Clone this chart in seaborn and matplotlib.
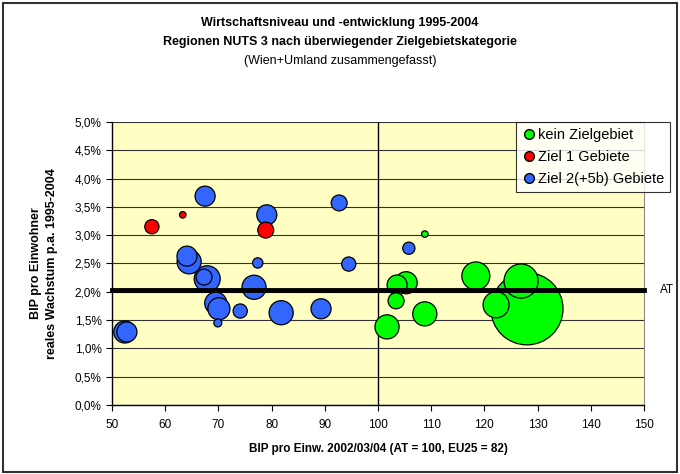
import pandas as pd
import numpy as np
import matplotlib.pyplot as plt
import seaborn as sns
from matplotlib.lines import Line2D
from matplotlib.patches import Rectangle
from matplotlib.ticker import FuncFormatter, MultipleLocator

plt.rcParams['font.family'] = ['Liberation Sans', 'DejaVu Sans']

# BIP pro Einw. (AT = 100), Wachstum p.a. in %, Einwohner (1000, geschaetzt)
kein_x = [101.7, 103.4, 103.6, 105.3, 108.8, 108.8, 118.4, 122.2, 128.0, 126.9]
kein_y = [1.38, 1.84, 2.12, 2.16, 1.61, 3.02, 2.28, 1.77, 1.70, 2.19]
kein_pop = [275, 120, 190, 230, 275, 20, 370, 320, 2460, 550]

ziel1_x = [57.5, 63.3, 78.9]
ziel1_y = [3.15, 3.36, 3.09]
ziel1_pop = [95, 20, 120]

ziel2_x = [52.4, 52.8, 64.1, 64.5, 67.9, 67.3, 69.5, 70.1, 69.9, 74.1,
           76.7, 77.4, 81.8, 67.5, 79.1, 92.7, 94.5, 89.3, 105.8]
ziel2_y = [1.29, 1.29, 2.63, 2.53, 2.23, 2.26, 1.80, 1.70, 1.45, 1.66,
           2.08, 2.51, 1.63, 3.69, 3.36, 3.57, 2.49, 1.70, 2.77]
ziel2_pop = [230, 190, 190, 275, 320, 120, 230, 230, 30, 95,
             275, 50, 275, 190, 190, 120, 95, 190, 70]

at_growth = 2.03

categories = ['kein Zielgebiet', 'Ziel 1 Gebiete', 'Ziel 2(+5b) Gebiete']
colors = {'kein Zielgebiet': '#00FF00', 'Ziel 1 Gebiete': '#FF0000',
          'Ziel 2(+5b) Gebiete': '#3366FF'}

df = pd.concat([
    pd.DataFrame({'x': kein_x, 'y': kein_y, 'pop': kein_pop, 'kat': categories[0]}),
    pd.DataFrame({'x': ziel1_x, 'y': ziel1_y, 'pop': ziel1_pop, 'kat': categories[1]}),
    pd.DataFrame({'x': ziel2_x, 'y': ziel2_y, 'pop': ziel2_pop, 'kat': categories[2]}),
])
# big bubbles first, small ones on top
df = df.sort_values('pop', ascending=False)

fig = plt.figure(figsize=(6.8, 4.74), dpi=100)
ax = fig.add_axes([0.1647, 0.1456, 0.7823, 0.597])
ax.set_facecolor('#FFFFC4')

max_pop = max(df['pop'])
sns.scatterplot(data=df, x='x', y='y', hue='kat', palette=colors, size='pop',
                sizes=(0, 2700), size_norm=(0, max_pop), edgecolor='black',
                linewidth=0.9, alpha=1, legend=False, ax=ax, zorder=3)

ax.set_xlim(50, 150)
ax.set_ylim(0, 5)
ax.xaxis.set_major_locator(MultipleLocator(10))
ax.yaxis.set_major_locator(MultipleLocator(0.5))
ax.yaxis.set_major_formatter(FuncFormatter(lambda v, p: f'{v:.1f}%'.replace('.', ',')))
ax.grid(axis='y', color='#333333', linewidth=0.8, zorder=0)
ax.set_axisbelow(True)
ax.tick_params(labelsize=8.5, length=4, width=0.8, direction='out', color='black')
ax.tick_params(axis='x', pad=6)

for side in ['left', 'bottom']:
    ax.spines[side].set_color('black')
    ax.spines[side].set_linewidth(1)
ax.spines['top'].set_visible(False)
ax.spines['right'].set_color('#888888')

ax.axvline(100, color='black', linewidth=1, zorder=2)
ax.axhline(at_growth, color='black', linewidth=3.5, zorder=4, clip_on=False)
ax.text(153, at_growth, 'AT', fontsize=8.5, va='center', ha='left')

ax.set_xlabel('BIP pro Einw. 2002/03/04 (AT = 100, EU25 = 82)', fontsize=8.5,
              fontweight='bold', labelpad=9)
ax.set_ylabel('BIP pro Einwohner\nreales Wachstum p.a. 1995-2004', fontsize=9,
              fontweight='bold', labelpad=12, linespacing=1.5)

fig.text(0.5, 0.952, 'Wirtschaftsniveau und -entwicklung 1995-2004',
         ha='center', va='center', fontsize=9, fontweight='bold')
fig.text(0.5, 0.911, 'Regionen NUTS 3 nach überwiegender Zielgebietskategorie',
         ha='center', va='center', fontsize=9, fontweight='bold')
fig.text(0.5, 0.871, '(Wien+Umland zusammengefasst)',
         ha='center', va='center', fontsize=9)

handles = [Line2D([0], [0], marker='o', linestyle='', markerfacecolor=colors[c],
                  markeredgecolor='black', markersize=7) for c in categories]
leg = fig.legend(handles, categories, loc='upper right',
                 bbox_to_anchor=(0.99, 0.748), fontsize=10.5, frameon=True,
                 fancybox=False, edgecolor='black', handletextpad=0.1,
                 borderpad=0.4, labelspacing=0.55, handlelength=1.0,
                 borderaxespad=0.2)
leg.get_frame().set_linewidth(0.8)

fig.patches.append(Rectangle((0.004, 0.004), 0.992, 0.99, transform=fig.transFigure,
                             fill=False, edgecolor='#333333', linewidth=1.5))

fig.savefig('out.png', dpi=100)
